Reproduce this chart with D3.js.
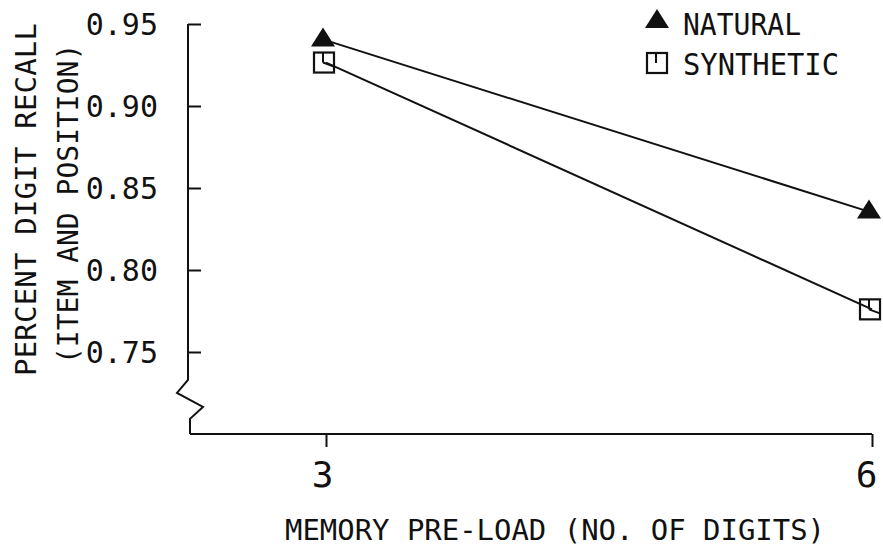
<!DOCTYPE html>
<html>
<head>
<meta charset="utf-8">
<script src="https://cdn.jsdelivr.net/npm/d3@7"></script>
<style>
  body { margin: 0; background: #fff; }
  text { font-family: "DejaVu Sans Mono", monospace; fill: #111; }
</style>
</head>
<body>
<script>
  // data
  const loads = [3, 6];
  const natural = [0.94, 0.835];
  const synthetic = [0.9265, 0.776];
  const yTicks = [0.75, 0.80, 0.85, 0.90, 0.95];
  const seriesNames = ["NATURAL", "SYNTHETIC"];
  const xTitle = "MEMORY PRE-LOAD (NO. OF DIGITS)";
  const yTitle1 = "PERCENT DIGIT RECALL";
  const yTitle2 = "(ITEM AND POSITION)";

  const w = 883;
  const h = 549;
  const axisX = 188;

  const xScale = d3.scaleLinear().domain([3, 6]).range([326, 872]);
  const yScale = d3.scaleLinear().domain([0.75, 0.95]).range([352, 24]);
  const yBottom = yScale(0.70);

  const svg = d3.select("body")
    .append("svg")
    .attr("width", w)
    .attr("height", h);

  const ink = "#111";

  // y axis with the break
  const yAxis = d3.axisLeft(yScale)
    .tickValues(yTicks)
    .tickSize(-13)
    .tickPadding(30)
    .tickFormat(d3.format(".2f"));

  const gy = svg.append("g")
    .attr("transform", "translate(" + axisX + ",0)")
    .call(yAxis);
  gy.select(".domain").remove();
  gy.selectAll(".tick line").attr("stroke", ink).attr("stroke-width", 2);
  gy.selectAll(".tick text")
    .attr("font-size", 30)
    .attr("font-family", "DejaVu Sans Mono")
    .attr("fill", ink)
    .attr("dy", "0.36em");

  const brk = yScale(0.733);
  svg.append("path")
    .attr("d", d3.line()([
      [axisX, yScale(0.95)],
      [axisX, brk],
      [axisX - 11, brk + 13],
      [axisX + 15, brk + 27],
      [axisX + 2, brk + 39],
      [axisX + 2, yBottom]
    ]))
    .attr("fill", "none")
    .attr("stroke", ink)
    .attr("stroke-width", 2);

  // x axis
  const xAxis = d3.axisBottom(xScale)
    .tickValues(loads)
    .tickSize(13)
    .tickPadding(14)
    .tickFormat(d3.format("d"));

  const gx = svg.append("g")
    .attr("transform", "translate(0," + yBottom + ")")
    .call(xAxis);
  gx.select(".domain").remove();
  gx.selectAll(".tick line").attr("stroke", ink).attr("stroke-width", 2);
  gx.selectAll(".tick text")
    .attr("font-size", 36)
    .attr("font-family", "DejaVu Sans Mono")
    .attr("fill", ink)
    .attr("dx", (d) => d === 6 ? -6 : -4);

  svg.append("line")
    .attr("x1", axisX + 2).attr("x2", xScale(6))
    .attr("y1", yBottom).attr("y2", yBottom)
    .attr("stroke", ink).attr("stroke-width", 2);

  // axis titles
  svg.append("text")
    .attr("x", 285).attr("y", 540)
    .attr("font-size", 29)
    .attr("textLength", 540)
    .attr("lengthAdjust", "spacingAndGlyphs")
    .text(xTitle);

  svg.append("text")
    .attr("transform", "translate(36,376) rotate(-90)")
    .attr("font-size", 29)
    .attr("letter-spacing", 0.2)
    .text(yTitle1);

  svg.append("text")
    .attr("transform", "translate(78,364) rotate(-90)")
    .attr("font-size", 28)
    .text(yTitle2);

  // lines
  const line = d3.line()
    .x((d, i) => xScale(loads[i]))
    .y((d) => yScale(d));

  [natural, synthetic].forEach((vals) => {
    svg.append("path")
      .attr("d", line(vals))
      .attr("fill", "none")
      .attr("stroke", ink)
      .attr("stroke-width", 2);
  });

  // markers
  const tri = (x, y) => "M" + x + "," + (y - 13) + "L" + (x + 12) + "," + (y + 6) +
    "L" + (x - 12) + "," + (y + 6) + "Z";

  const square = (g, x, y) => {
    g.append("rect")
      .attr("x", x - 10).attr("y", y - 10)
      .attr("width", 20).attr("height", 20)
      .attr("fill", "none")
      .attr("stroke", ink).attr("stroke-width", 2.2);
    g.append("line")
      .attr("x1", x - 1).attr("x2", x - 1)
      .attr("y1", y - 10).attr("y2", y)
      .attr("stroke", ink).attr("stroke-width", 2);
  };

  svg.selectAll("path.nat")
    .data(natural)
    .enter()
    .append("path")
    .attr("class", "nat")
    .attr("d", (d, i) => tri(xScale(loads[i]) - 3, yScale(d)))
    .attr("fill", ink);

  synthetic.forEach((d, i) => {
    const g = svg.append("g");
    square(g, xScale(loads[i]) - 2, yScale(d));
    // stub of the connector inside the box
    g.append("line")
      .attr("x1", xScale(loads[i]) - 3).attr("x2", xScale(loads[i]) + 8)
      .attr("y1", yScale(d)).attr("y2", yScale(d) + 4)
      .attr("stroke", ink).attr("stroke-width", 2);
  });

  // legend
  svg.append("path")
    .attr("d", tri(657, 22))
    .attr("fill", ink);
  svg.append("text")
    .attr("x", 683).attr("y", 35)
    .attr("font-size", 30)
    .attr("textLength", 118)
    .attr("lengthAdjust", "spacingAndGlyphs")
    .text(seriesNames[0]);

  square(svg.append("g"), 657, 63);
  svg.append("text")
    .attr("x", 683).attr("y", 75)
    .attr("font-size", 30)
    .attr("textLength", 156)
    .attr("lengthAdjust", "spacingAndGlyphs")
    .text(seriesNames[1]);
</script>
</body>
</html>
